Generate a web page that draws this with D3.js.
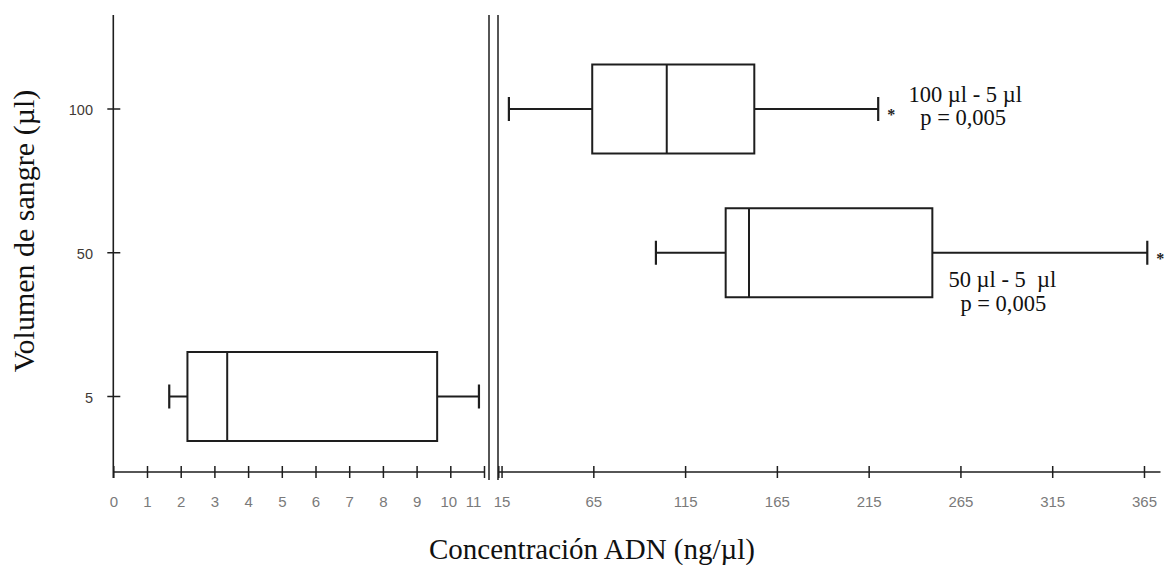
<!DOCTYPE html>
<html>
<head>
<meta charset="utf-8">
<script src="https://cdn.jsdelivr.net/npm/d3@7"></script>
<style>
  html, body { margin: 0; padding: 0; background: #fff; }
  svg { display: block; }
  text { white-space: pre; }
</style>
</head>
<body>
<svg id="chart" width="1165" height="565"></svg>
<script>
// ---------- data ----------
const groups = ["100", "50", "5"];              // blood volume (µl), top to bottom
const groupAxis = ["right", "right", "left"];     // which x segment each box uses
const whiskerLow  = [19.0, 99.1, 1.66];
const q1          = [64.4, 137.1, 2.20];
const median      = [105.0, 149.8, 3.38];
const q3          = [152.7, 249.7, 9.61];
const whiskerHigh = [220.2, 366.8, 10.85];
const significant = [true, true, false];

const leftTicks  = [0, 1, 2, 3, 4, 5, 6, 7, 8, 9, 10, 11];
const rightTicks = [15, 65, 115, 165, 215, 265, 315, 365];

const annotLine1 = ["100 µl - 5 µl", "50 µl - 5  µl"];
const annotLine2 = ["p = 0,005", "p = 0,005"];

const yTitle = "Volumen de sangre (µl)";
const xTitle = "Concentración ADN (ng/µl)";

// ---------- layout ----------
const svg = d3.select("#chart");
const axisY = 472, axisTop = 15, axisBottom = 478;
const ink = "#1e1e1e";

const xL = d3.scaleLinear().domain([0, 11]).range([113.3, 484]);
const xR = d3.scaleLinear().domain([13.5, 374]).range([498.8, 1160.5]);
const y = d3.scalePoint().domain(groups).range([109, 396.5]);
const boxH = 89, capH = 24;

const tickFont = "'Liberation Sans', Arial, sans-serif";
const serif = "'Liberation Serif', 'Times New Roman', serif";

// ---------- axes ----------
svg.append("line").attr("x1", xL(0)).attr("x2", xL(0))
  .attr("y1", axisTop).attr("y2", axisBottom)
  .attr("stroke", ink).attr("stroke-width", 1.6);

const yAx = svg.append("g");
groups.forEach(g => {
  yAx.append("line").attr("x1", xL(0) - 6).attr("x2", xL(0) + 7)
    .attr("y1", y(g)).attr("y2", y(g)).attr("stroke", ink).attr("stroke-width", 1.5);
  yAx.append("text").attr("x", 93).attr("y", y(g) + 1).attr("dy", "0.35em")
    .attr("text-anchor", "end").attr("font-family", tickFont).attr("font-size", 14.5)
    .attr("fill", "#3f3a36").text(g);
});

const gL = svg.append("g").attr("transform", `translate(0,${axisY})`)
  .call(d3.axisBottom(xL).tickValues(leftTicks).tickSize(0).tickPadding(0).tickFormat(d3.format("d")));
gL.select(".domain").remove();
gL.selectAll(".tick line").attr("y1", -6).attr("y2", 6).attr("stroke", ink).attr("stroke-width", 1.5);
gL.selectAll(".tick text").attr("y", 30).attr("dy", "0.35em")
  .attr("font-family", tickFont).attr("font-size", 15).attr("fill", "#7a7a7a")
  .attr("dx", d => d === 11 ? -11 : (d === 10 ? -2 : 0));
svg.append("line").attr("x1", xL(0)).attr("x2", xL(11)).attr("y1", axisY).attr("y2", axisY)
  .attr("stroke", ink).attr("stroke-width", 1.6);

const gR = svg.append("g").attr("transform", `translate(0,${axisY})`)
  .call(d3.axisBottom(xR).tickValues(rightTicks).tickSize(0).tickPadding(0).tickFormat(d3.format("d")));
gR.select(".domain").remove();
gR.selectAll(".tick line").attr("y1", -6).attr("y2", 6).attr("stroke", ink).attr("stroke-width", 1.5);
gR.selectAll(".tick text").attr("y", 30).attr("dy", "0.35em")
  .attr("font-family", tickFont).attr("font-size", 15).attr("fill", "#7a7a7a");
const r0 = xR.range()[0], r1 = xR.range()[1];
svg.append("line").attr("x1", r0).attr("x2", r1).attr("y1", axisY).attr("y2", axisY)
  .attr("stroke", ink).attr("stroke-width", 1.6);
svg.append("line").attr("x1", r0).attr("x2", r0).attr("y1", axisY - 6).attr("y2", axisY + 6)
  .attr("stroke", ink).attr("stroke-width", 1.5);

// axis break: double vertical lines
[xL(11) + 5, r0 - 0.8].forEach(bx => {
  svg.append("line").attr("x1", bx).attr("x2", bx).attr("y1", axisTop).attr("y2", axisBottom + 2)
    .attr("stroke", ink).attr("stroke-width", 1.5);
});

// ---------- boxes ----------
const boxes = svg.append("g").attr("fill", "none").attr("stroke", ink).attr("stroke-width", 2);
groups.forEach((g, i) => {
  const x = groupAxis[i] === "left" ? xL : xR;
  const cy = y(g);
  boxes.append("line").attr("x1", x(whiskerLow[i])).attr("x2", x(q1[i])).attr("y1", cy).attr("y2", cy);
  boxes.append("line").attr("x1", x(q3[i])).attr("x2", x(whiskerHigh[i])).attr("y1", cy).attr("y2", cy);
  [whiskerLow[i], whiskerHigh[i]].forEach(v => {
    boxes.append("line").attr("x1", x(v)).attr("x2", x(v))
      .attr("y1", cy - capH / 2).attr("y2", cy + capH / 2).attr("stroke-width", 2.2);
  });
  boxes.append("rect").attr("x", x(q1[i])).attr("y", cy - boxH / 2)
    .attr("width", x(q3[i]) - x(q1[i])).attr("height", boxH).attr("fill", "#fff");
  boxes.append("line").attr("x1", x(median[i])).attr("x2", x(median[i]))
    .attr("y1", cy - boxH / 2).attr("y2", cy + boxH / 2);
  if (significant[i]) {
    svg.append("text").attr("x", x(whiskerHigh[i]) + 9).attr("y", cy + 11)
      .attr("font-family", serif).attr("font-size", 16).attr("font-weight", "bold")
      .attr("fill", ink).text("*");
  }
});

// ---------- annotations ----------
const annot = svg.append("g").attr("font-family", serif).attr("font-size", 22.5)
  .attr("fill", "#111").attr("text-anchor", "middle");
annot.append("text").attr("x", xR(whiskerHigh[0]) + 87).attr("y", y(groups[0]) - 7).text(annotLine1[0]);
annot.append("text").attr("x", xR(whiskerHigh[0]) + 85).attr("y", y(groups[0]) + 15.5).text(annotLine2[0]);
annot.append("text").attr("x", xR(q3[1]) + 70).attr("y", y(groups[1]) + 34).text(annotLine1[1]);
annot.append("text").attr("x", xR(q3[1]) + 71).attr("y", y(groups[1]) + 58).text(annotLine2[1]);

// ---------- titles ----------
svg.append("text").attr("transform", "translate(34,231) rotate(-90)")
  .attr("text-anchor", "middle").attr("font-family", serif).attr("font-size", 30)
  .attr("fill", "#111").text(yTitle);
svg.append("text").attr("x", 592).attr("y", 559)
  .attr("text-anchor", "middle").attr("font-family", serif).attr("font-size", 29)
  .attr("fill", "#111").text(xTitle);
</script>
</body>
</html>
